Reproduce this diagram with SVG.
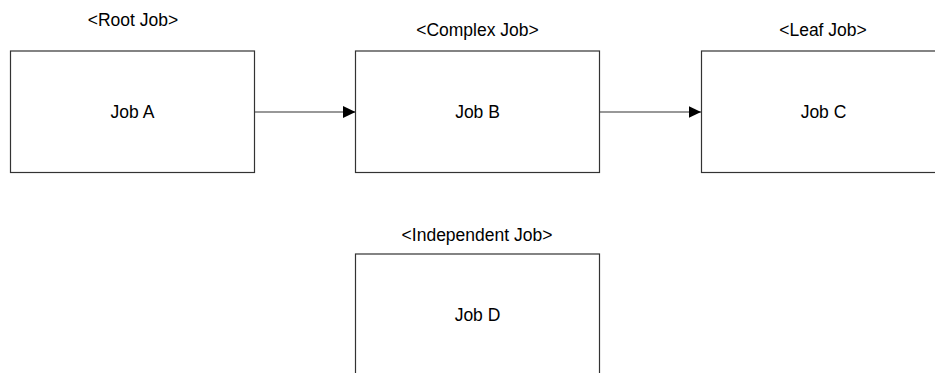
<svg xmlns="http://www.w3.org/2000/svg" width="935" height="373" viewBox="0 0 935 373">
  <style>
    .box { fill: #ffffff; stroke: #333333; stroke-width: 1.2; }
    .name { font-family: "Liberation Sans", Arial, sans-serif; font-size: 17.5px; fill: #000000; text-anchor: middle; }
    .kind { font-family: "Liberation Sans", Arial, sans-serif; font-size: 17.5px; fill: #000000; text-anchor: middle; }
    .link { stroke: #333333; stroke-width: 1.2; fill: none; marker-end: url(#head); }
  </style>
  <defs>
    <marker id="head" markerUnits="userSpaceOnUse" markerWidth="13" markerHeight="13" refX="12.5" refY="6.5" orient="auto">
      <path d="M0,0.5 L12.5,6.5 L0,12.5 Z" fill="#000000"/>
    </marker>
  </defs>
  <rect width="935" height="373" fill="#ffffff"/>

  <g id="connectors">
    <line class="link" x1="255" y1="112" x2="355.5" y2="112"/>
    <line class="link" x1="600" y1="112" x2="701" y2="112"/>
  </g>

  <g id="job-a">
    <text class="kind" x="133" y="25.5">&lt;Root Job&gt;</text>
    <rect class="box" x="10.5" y="51" width="244" height="121.5"/>
    <text class="name" x="132.5" y="118">Job A</text>
  </g>

  <g id="job-b">
    <text class="kind" x="477.5" y="36">&lt;Complex Job&gt;</text>
    <rect class="box" x="355.5" y="51" width="244" height="121.5"/>
    <text class="name" x="477.5" y="118">Job B</text>
  </g>

  <g id="job-c">
    <text class="kind" x="823" y="36">&lt;Leaf Job&gt;</text>
    <rect class="box" x="701.5" y="51" width="244" height="121.5"/>
    <text class="name" x="823.5" y="118">Job C</text>
  </g>

  <g id="job-d">
    <text class="kind" x="477" y="241">&lt;Independent Job&gt;</text>
    <rect class="box" x="355.5" y="254" width="244" height="121.5"/>
    <text class="name" x="477.5" y="321">Job D</text>
  </g>
</svg>
